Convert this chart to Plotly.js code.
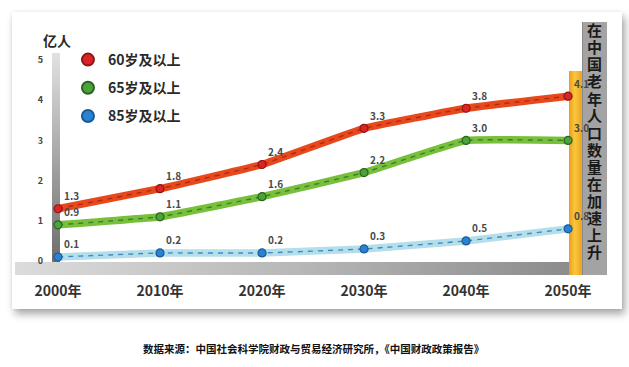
<!DOCTYPE html>
<html>
<head>
<meta charset="utf-8">
<script src="https://cdn.plot.ly/plotly-3.0.1.min.js"></script>
<style>
  html, body { margin:0; padding:0; background:#fff; }
  #wrap { position:relative; width:629px; height:367px; overflow:hidden; background:#fff; }
  .deco { position:absolute; }
  #card { left:12px; top:12px; width:610px; height:297px; background:#fff;
          box-shadow: 3px 5px 8px rgba(0,0,0,0.35), 0 0 3px rgba(0,0,0,0.08); }
  #hbar { left:15px; top:262px; width:554px; height:13px;
          background: linear-gradient(to right, #dcdcdc, #b8b8b8 50%, #8c8c8c); }
  #vbar { left:52px; top:53px; width:8px; height:209px;
          background: linear-gradient(to bottom, #e2e2e2, #9a9a9a 60%, #6e6e6e); }
  #obar { left:569px; top:71px; width:13px; height:204px;
          background: linear-gradient(to right, #f09a20, #f8c83a 45%, #f0a020); }
  #gpanel { left:582px; top:22px; width:25px; height:253px; background:#a3a3a3;
            border-left:1px solid #8a8a8a; box-sizing:border-box; }
  #side { position:absolute; left:582px; top:23px; width:25px; height:250px;
          writing-mode: vertical-rl; text-orientation: upright;
          font-family: "Noto Sans CJK SC", sans-serif; font-weight:700; font-size:15px;
          color:#1a1a1a; letter-spacing:2.1px; line-height:25px; text-align:start; }
  #plot { position:absolute; left:0; top:0; width:629px; height:367px; }
</style>
</head>
<body>
<div id="wrap">
  <div id="card" class="deco"></div>
  <div id="hbar" class="deco"></div>
  <div id="vbar" class="deco"></div>
  <div id="obar" class="deco"></div>
  <div id="gpanel" class="deco"></div>
  <div id="side">在中国老年人口数量在加速上升</div>
  <div id="plot"></div>
</div>
<script>
// ---- data ----
const years = [2000, 2010, 2020, 2030, 2040, 2050];
const yearLabels = ["2000年", "2010年", "2020年", "2030年", "2040年", "2050年"];
const seriesNames = ["60岁及以上", "65岁及以上", "85岁及以上"];
const age60 = [1.3, 1.8, 2.4, 3.3, 3.8, 4.1];
const age65 = [0.9, 1.1, 1.6, 2.2, 3.0, 3.0];
const age85 = [0.1, 0.2, 0.2, 0.3, 0.5, 0.8];
const yTicks = [0, 1, 2, 3, 4, 5];
const unitLabel = "亿人";
const sourceText = "数据来源：中国社会科学院财政与贸易经济研究所，《中国财政政策报告》";

// ---- styles ----
const FONT = '"Noto Sans CJK SC", "Noto Sans", sans-serif';
const styles = [
  {base:'#e8491c', dash:'#b42812', mk:'#dc2428', mkl:'#8a1810'},
  {base:'#78c03c', dash:'#3a8026', mk:'#4ea23a', mkl:'#2a6420'},
  {base:'#b4dfea', dash:'#3f8cc4', mk:'#2a82d2', mkl:'#1a5a96'}
];
const allSeries = [age60, age65, age85];

const traces = [];
allSeries.forEach((vals, i) => {
  const s = styles[i];
  traces.push({x: years, y: vals, mode:'lines', line:{color:s.base, width:7.5, shape:'spline', smoothing:0.25},
               hoverinfo:'skip', showlegend:false});
  traces.push({x: years, y: vals, mode:'lines', line:{color:s.dash, width:1.4, dash:'5px,5px', shape:'spline', smoothing:0.25},
               hoverinfo:'skip', showlegend:false});
});
allSeries.forEach((vals, i) => {
  const s = styles[i];
  traces.push({x: years, y: vals, mode:'markers', name: seriesNames[i], legendgroup:'g'+i,
               marker:{color:s.mk, size:8, line:{color:s.mkl, width:1.2}}});
});

const annotations = [];
allSeries.forEach((vals) => {
  vals.forEach((v, j) => {
    annotations.push({x: years[j], y: v, xref:'x', yref:'y', text: v.toFixed(1), showarrow:false,
      xshift: 13, yshift: 13, font:{family:FONT, size:10, color:'#4a4a4a', weight:700}});
  });
});
annotations.push({xref:'paper', yref:'paper', x:(57-48)/553, y:1-(40-30)/245, xanchor:'center', yanchor:'middle',
  text:unitLabel, showarrow:false, font:{family:FONT, size:14, color:'#2a2a2a', weight:700}});
annotations.push({xref:'paper', yref:'paper', x:(314-48)/553, y:1-(348-30)/245, xanchor:'center', yanchor:'middle',
  text:sourceText, showarrow:false, font:{family:FONT, size:10.5, color:'#111', weight:700}});

const layout = {
  width:629, height:367,
  margin:{l:48, r:29, t:30, b:92},
  paper_bgcolor:'rgba(0,0,0,0)', plot_bgcolor:'rgba(0,0,0,0)',
  xaxis:{range:[1999.02, 2053.13], tickvals: years, ticktext: yearLabels, showgrid:false, zeroline:false,
         showline:false, ticks:'', ticklabelstandoff:6, fixedrange:true,
         tickfont:{family:FONT, size:14, color:'#333', weight:700}},
  yaxis:{range:[-0.348, 5.746], tickvals: yTicks, showgrid:false, zeroline:false, showline:false, ticks:'',
         ticklabelstandoff:4, fixedrange:true,
         tickfont:{family:FONT, size:9, color:'#444', weight:700}},
  showlegend:true,
  legend:{x:(68-48)/553, y:1-(44-30)/245, xanchor:'left', yanchor:'top', bgcolor:'rgba(0,0,0,0)',
          traceorder:'grouped', tracegroupgap:7, itemsizing:'constant',
          font:{family:FONT, size:14, color:'#2a2a2a', weight:700}},
  annotations: annotations,
  hovermode:false
};
Plotly.newPlot('plot', traces, layout, {staticPlot:true, displayModeBar:false});
</script>
</body>
</html>
